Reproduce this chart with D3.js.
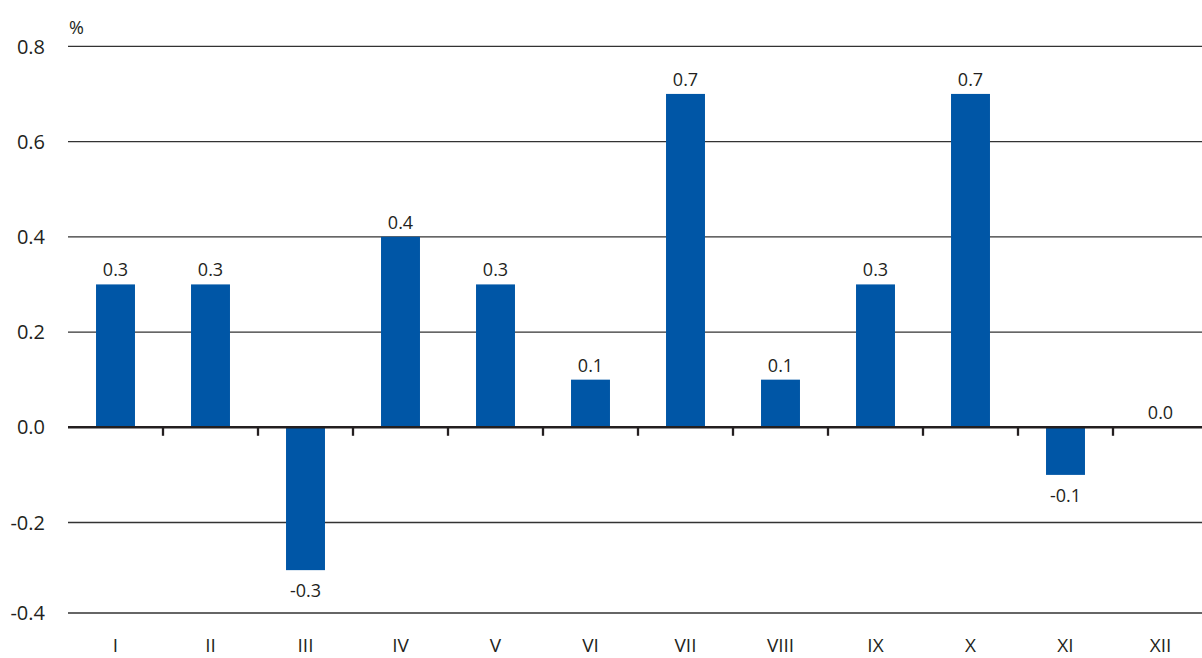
<!DOCTYPE html>
<html>
<head>
<meta charset="utf-8">
<script src="https://cdn.jsdelivr.net/npm/d3@7"></script>
<style>
  html, body { margin: 0; padding: 0; background: #fff; }
  svg { display: block; }
  text { font-family: "Open Sans", "Noto Sans", sans-serif; fill: #231f20; }
</style>
</head>
<body>
<svg id="chart" width="1202" height="658"></svg>
<script>
// ---- data ----
const categories = ["I", "II", "III", "IV", "V", "VI", "VII", "VIII", "IX", "X", "XI", "XII"];
const values = [0.3, 0.3, -0.3, 0.4, 0.3, 0.1, 0.7, 0.1, 0.3, 0.7, -0.1, 0.0];
const yTicks = [-0.4, -0.2, 0.0, 0.2, 0.4, 0.6, 0.8];
const unitLabel = "%";

// ---- layout ----
const W = 1202, H = 658;
const plotLeft = 68, step = 95;
const plotTop = 46.3, plotBottom = 613;
const barColor = "#0056a6";
const ink = "#231f20";
const fmt = d => d3.format(".1f")(d).replace("\u2212", "-");

const svg = d3.select("#chart");

const x = d3.scaleBand()
  .domain(categories)
  .range([plotLeft, plotLeft + step * categories.length])
  .padding(0);

const y = d3.scaleLinear()
  .domain([-0.39, 0.8])
  .range([plotBottom, plotTop])
  .clamp(true);

const barW = x.bandwidth() * 0.41;

// gridlines (excluding zero)
svg.append("g")
  .selectAll("line")
  .data(yTicks.filter(d => d !== 0))
  .join("line")
  .attr("x1", plotLeft)
  .attr("x2", W)
  .attr("y1", d => y(d))
  .attr("y2", d => y(d))
  .attr("stroke", "#333")
  .attr("stroke-width", 1.3);

// y labels
svg.append("g")
  .selectAll("text")
  .data(yTicks)
  .join("text")
  .attr("x", 45)
  .attr("y", d => y(d))
  .attr("dy", "0.36em")
  .attr("text-anchor", "end")
  .style("font-size", "20px")
  .text(fmt);

// unit label
svg.append("text")
  .attr("x", 69)
  .attr("y", 34)
  .style("font-size", "18px")
  .text(unitLabel);

// bars
svg.append("g")
  .selectAll("rect")
  .data(values)
  .join("rect")
  .attr("x", (d, i) => x(categories[i]) + (x.bandwidth() - barW) / 2)
  .attr("width", barW)
  .attr("y", d => y(Math.max(0, d)))
  .attr("height", d => Math.abs(y(d) - y(0)))
  .attr("fill", barColor);

// zero axis line
svg.append("line")
  .attr("x1", plotLeft)
  .attr("x2", W)
  .attr("y1", y(0))
  .attr("y2", y(0))
  .attr("stroke", ink)
  .attr("stroke-width", 2.6);

// category boundary ticks
svg.append("g")
  .selectAll("line")
  .data(categories.slice(1))
  .join("line")
  .attr("x1", d => x(d))
  .attr("x2", d => x(d))
  .attr("y1", y(0))
  .attr("y2", y(0) + 8.5)
  .attr("stroke", ink)
  .attr("stroke-width", 2.3);

// value labels
svg.append("g")
  .selectAll("text")
  .data(values)
  .join("text")
  .attr("x", (d, i) => x(categories[i]) + x.bandwidth() / 2)
  .attr("y", d => d < 0 ? y(d) + 27 : y(d) - 8)
  .attr("text-anchor", "middle")
  .style("font-size", "18px")
  .text(fmt);

// category labels
svg.append("g")
  .selectAll("text")
  .data(categories)
  .join("text")
  .attr("x", d => x(d) + x.bandwidth() / 2)
  .attr("y", 652)
  .attr("text-anchor", "middle")
  .style("font-size", "19px")
  .text(d => d);
</script>
</body>
</html>
